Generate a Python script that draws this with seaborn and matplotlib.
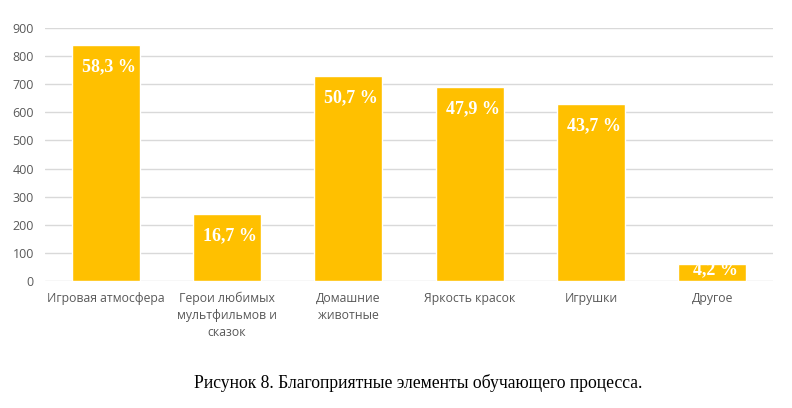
import matplotlib
matplotlib.use("Agg")
import matplotlib.pyplot as plt
import seaborn as sns
import pandas as pd

categories = ["Игровая атмосфера", "Герои любимых\nмультфильмов и\nсказок", "Домашние\nживотные",
              "Яркость красок", "Игрушки", "Другое"]
values = [840, 240, 730, 690, 629, 60]
percent_labels = ["58,3 %", "16,7 %", "50,7 %", "47,9 %", "43,7 %", "4,2 %"]
yticks = [0, 100, 200, 300, 400, 500, 600, 700, 800, 900]
caption = "Рисунок 8. Благоприятные элементы обучающего процесса."

sns.set_theme(style="white")
plt.rcParams['font.family'] = ['Open Sans', 'DejaVu Sans']

df = pd.DataFrame({"cat": categories, "val": values})

fig = plt.figure(figsize=(7.92, 4.08), dpi=100)
ax = fig.add_axes([45/792, 1 - 281/408, 728/792, 253/408])
sns.barplot(data=df, x="cat", y="val", color="#FFC000", saturation=1, width=0.56, ax=ax, zorder=3)

ax.set_ylim(0, 900)
ax.set_xlim(-0.5, len(categories) - 0.5)
ax.set_yticks(yticks)
ax.set_yticklabels([str(t) for t in yticks], color="#595959", fontsize=9)
ax.tick_params(axis="x", colors="#595959", labelsize=8.8, length=0, pad=8)
ax.tick_params(axis="y", length=0, pad=8)
for lbl in ax.get_xticklabels():
    lbl.set_linespacing(1.4)
ax.grid(axis="y", color="#D9D9D9", linewidth=1, zorder=0)
ax.set_axisbelow(True)
for s in ax.spines.values():
    s.set_visible(False)
ax.set_xlabel("")
ax.set_ylabel("")

for i, (v, lab) in enumerate(zip(values, percent_labels)):
    if v > 150:
        ax.annotate(lab, (i, v), xytext=(3, -22), textcoords="offset pixels", ha="center", va="center",
                    color="white", fontweight="bold", fontsize=13, family="Liberation Serif", zorder=5)
    else:
        ax.annotate(lab, (i, v / 2), xytext=(3, 3), textcoords="offset pixels", ha="center", va="center",
                    color="white", fontweight="bold", fontsize=13, family="Liberation Serif", zorder=5)

fig.text(418/792, 1 - 383/408, caption, ha="center", va="center", fontsize=12.7,
         family="Liberation Serif", color="black")

fig.savefig("out.png", dpi=100)
